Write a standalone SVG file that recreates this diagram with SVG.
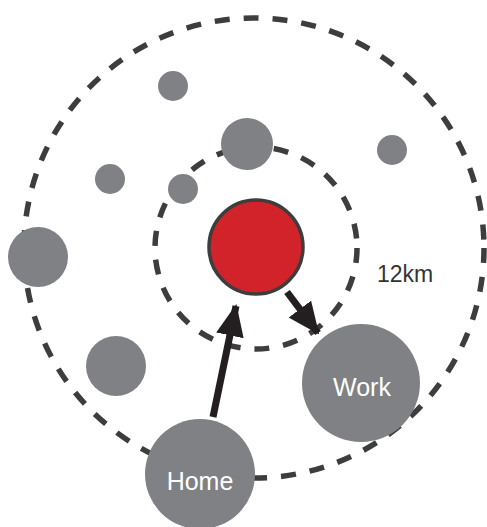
<svg xmlns="http://www.w3.org/2000/svg" width="487" height="527" viewBox="0 0 487 527">
<style>
.ring{fill:none;stroke:#3d3d3d;stroke-width:5.5;stroke-dasharray:15 14}
.dot{fill:#808184}
.lbl{font-family:"Liberation Sans",Arial,sans-serif;font-size:25px;text-anchor:middle}
.w{fill:#ffffff}
.k{fill:#333333;font-size:23px}
.arr{stroke:#231f20;stroke-width:7;fill:none;marker-end:url(#head)}
</style>
<defs>
<marker id="head" viewBox="0 0 32 28" refX="30" refY="14" markerWidth="32" markerHeight="28" markerUnits="userSpaceOnUse" orient="auto">
<path d="M0,0 L32,14 L0,28 Z" fill="#231f20"/>
</marker>
</defs>
<g id="rings">
<circle class="ring" cx="254" cy="248" r="230"/>
<circle class="ring" cx="256" cy="248" r="101"/>
</g>
<g id="center"><circle cx="256" cy="247" r="47" fill="#d2232a" stroke="#3d3d3d" stroke-width="3.5"/></g>
<g id="dot1"><circle class="dot" cx="173" cy="86" r="15"/></g>
<g id="dot2"><circle class="dot" cx="247" cy="144" r="26"/></g>
<g id="dot3"><circle class="dot" cx="392" cy="150" r="15"/></g>
<g id="dot4"><circle class="dot" cx="110" cy="179" r="15"/></g>
<g id="dot5"><circle class="dot" cx="183" cy="189" r="15"/></g>
<g id="dot6"><circle class="dot" cx="38" cy="257" r="30"/></g>
<g id="dot7"><circle class="dot" cx="116" cy="366" r="30"/></g>
<g id="work"><circle class="dot" cx="361" cy="383" r="59"/><text class="lbl w" x="362" y="396">Work</text></g>
<g id="home"><circle class="dot" cx="200" cy="474" r="55"/><text class="lbl w" x="200" y="490">Home</text></g>
<g id="dist"><text class="lbl k" x="405" y="282">12km</text></g>
<g id="connectors">
<line class="arr" x1="213" y1="417" x2="236" y2="306"/>
<line class="arr" x1="287" y1="292" x2="318" y2="333"/>
</g>
</svg>
